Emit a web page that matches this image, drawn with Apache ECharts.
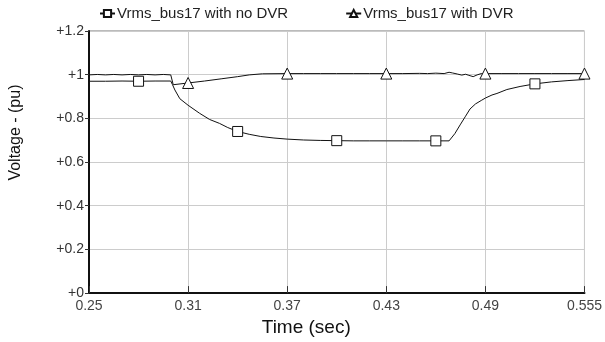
<!DOCTYPE html>
<html>
<head>
<meta charset="utf-8">
<script src="https://cdn.jsdelivr.net/npm/echarts@6/dist/echarts.min.js"></script>
<style>html,body{margin:0;padding:0;background:#fff}#c{width:605px;height:342px}</style>
</head>
<body>
<div id="c"></div>
<script>
var seriesNames = ['Vrms_bus17 with no DVR', 'Vrms_bus17 with DVR'];
var xTickLabels = ['0.25', '0.31', '0.37', '0.43', '0.49', '0.555'];
var yTickLabels = ['+0', '+0.2', '+0.4', '+0.6', '+0.8', '+1', '+1.2'];

var timesNoDVR = [0.25, 0.26, 0.27, 0.28, 0.29, 0.2995, 0.3005, 0.302, 0.305, 0.31, 0.317, 0.323, 0.329, 0.334, 0.34, 0.347, 0.354, 0.362, 0.37, 0.38, 0.39, 0.40, 0.41, 0.42, 0.43, 0.44, 0.45, 0.46, 0.468, 0.4715, 0.4747, 0.478, 0.4807, 0.484, 0.4875, 0.49, 0.494, 0.497, 0.503, 0.511, 0.52, 0.53, 0.54, 0.55];
var voltsNoDVR = [0.970, 0.970, 0.971, 0.970, 0.971, 0.971, 0.955, 0.930, 0.890, 0.860, 0.823, 0.795, 0.777, 0.758, 0.740, 0.727, 0.717, 0.710, 0.705, 0.701, 0.699, 0.698, 0.697, 0.697, 0.697, 0.697, 0.697, 0.697, 0.697, 0.730, 0.770, 0.810, 0.843, 0.866, 0.882, 0.893, 0.907, 0.914, 0.932, 0.946, 0.958, 0.967, 0.973, 0.978];
var markerTimesNoDVR = [0.28, 0.34, 0.40, 0.46, 0.52];

var timesDVR = [0.25, 0.255, 0.26, 0.265, 0.27, 0.275, 0.28, 0.285, 0.29, 0.295, 0.2995, 0.301, 0.31, 0.32, 0.33, 0.34, 0.347, 0.355, 0.37, 0.38, 0.39, 0.40, 0.41, 0.42, 0.43, 0.44, 0.45, 0.455, 0.46, 0.465, 0.468, 0.470, 0.473, 0.4757, 0.478, 0.480, 0.4826, 0.485, 0.4875, 0.49, 0.50, 0.51, 0.52, 0.53, 0.54, 0.55];
var voltsDVR = [0.999, 1.001, 0.999, 1.001, 0.999, 1.001, 0.999, 1.001, 0.999, 1.001, 0.999, 0.954, 0.962, 0.971, 0.981, 0.991, 0.999, 1.004, 1.005, 1.005, 1.005, 1.005, 1.005, 1.005, 1.005, 1.005, 1.006, 1.005, 1.007, 1.005, 1.011, 1.008, 1.003, 0.998, 1.002, 0.997, 0.991, 0.999, 1.005, 1.005, 1.005, 1.005, 1.005, 1.005, 1.005, 1.005];
var markerTimesDVR = [0.31, 0.37, 0.43, 0.49, 0.55];

function buildData(times, volts, markerTimes) {
  return times.map(function (t, i) {
    var isMarker = markerTimes.some(function (m) { return Math.abs(m - t) < 1e-9; });
    return isMarker ? { value: [t, volts[i]] } : { value: [t, volts[i]], symbol: 'none' };
  });
}

var FONT = '"Liberation Sans", Arial, sans-serif';
var chart = echarts.init(document.getElementById('c'), null, { renderer: 'canvas' });
chart.setOption({
  animation: false,
  backgroundColor: '#ffffff',
  legend: {
    left: 99, top: 6, padding: 0,
    itemWidth: 15, itemHeight: 9, itemGap: 57,
    textStyle: { fontFamily: FONT, fontSize: 15, color: '#222', padding: [0, 0, 0, -3] },
    data: seriesNames
  },
  grid: {
    left: 89, right: 20, top: 31, bottom: 46,
    show: true, borderColor: '#777', borderWidth: 1
  },
  xAxis: {
    type: 'value', min: 0.25, max: 0.55, interval: 0.06,
    name: 'Time (sec)', nameLocation: 'middle', nameGap: 20,
    nameTextStyle: { fontFamily: FONT, fontSize: 19, color: '#111', padding: [0, 61, 0, 0] },
    axisLine: { show: true, onZero: false, lineStyle: { color: '#111', width: 2 } },
    axisTick: { show: true, inside: true, length: 7, lineStyle: { color: '#333' } },
    axisLabel: {
      fontFamily: FONT, fontSize: 14, color: '#444', margin: 6, showMaxLabel: true,
      formatter: function (v) { return xTickLabels[Math.round((v - 0.25) / 0.06)]; }
    },
    splitLine: { show: true, lineStyle: { color: '#cccccc', width: 1 } }
  },
  yAxis: {
    type: 'value', min: 0, max: 1.2, interval: 0.2,
    name: 'Voltage - (pu)', nameLocation: 'middle', nameGap: 65, nameRotate: 90,
    nameTextStyle: { fontFamily: FONT, fontSize: 16, color: '#111', padding: [0, 0, 0, 59] },
    axisLine: { show: true, lineStyle: { color: '#111', width: 2 } },
    axisTick: { show: true, inside: false, length: 4, lineStyle: { color: '#333' } },
    axisLabel: {
      fontFamily: FONT, fontSize: 14, color: '#333', margin: 5,
      formatter: function (v) { return yTickLabels[Math.round(v / 0.2)]; }
    },
    splitLine: { show: true, lineStyle: { color: '#cccccc', width: 1 } }
  },
  series: [
    {
      name: seriesNames[0], type: 'line', symbol: 'rect', symbolSize: 10, showSymbol: true,
      itemStyle: { color: '#ffffff', borderColor: '#111', borderWidth: 1 },
      lineStyle: { color: '#111', width: 1 },
      data: buildData(timesNoDVR, voltsNoDVR, markerTimesNoDVR), z: 3
    },
    {
      name: seriesNames[1], type: 'line', symbol: 'triangle', symbolSize: 11, showSymbol: true,
      itemStyle: { color: '#ffffff', borderColor: '#111', borderWidth: 1 },
      lineStyle: { color: '#111', width: 1 },
      data: buildData(timesDVR, voltsDVR, markerTimesDVR), z: 4
    }
  ]
});
</script>
</body>
</html>
